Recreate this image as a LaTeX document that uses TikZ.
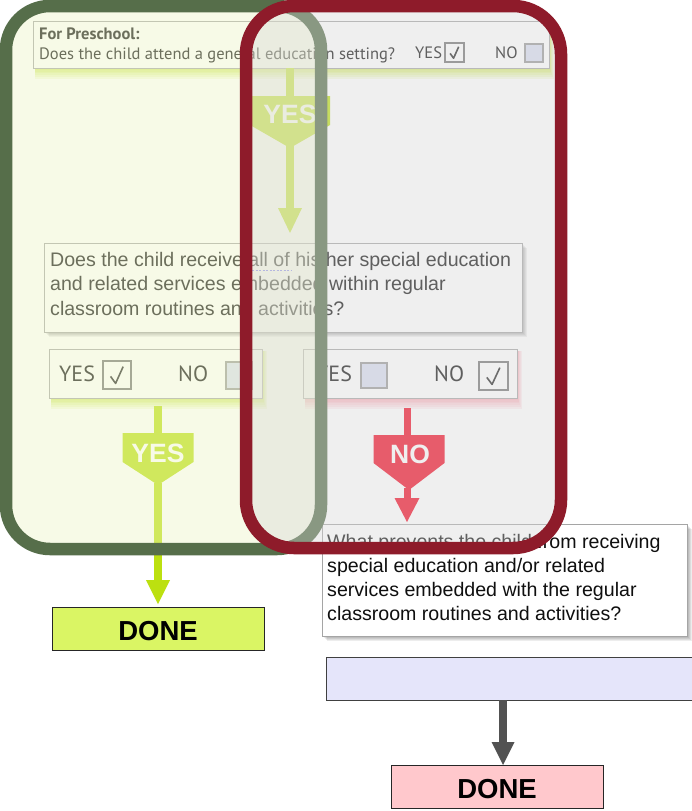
\documentclass[tikz,border=0pt]{standalone}
\usepackage{fontspec}
\setmainfont{Liberation Sans}
\newfontfamily\myr{PT Sans}
\definecolor{gborder}{RGB}{86,110,74}
\definecolor{rborder}{RGB}{142,27,42}
\definecolor{gfill}{RGB}{238,245,200}
\definecolor{rfill}{RGB}{215,215,215}
\definecolor{lime}{RGB}{188,224,16}
\definecolor{nored}{RGB}{243,10,35}
\definecolor{donegreen}{RGB}{218,245,100}
\definecolor{donepink}{RGB}{255,200,204}
\definecolor{lav}{RGB}{229,229,250}
\definecolor{txt}{RGB}{15,15,15}
\definecolor{boxline}{RGB}{165,165,165}
\definecolor{unchk}{RGB}{215,220,240}
\definecolor{pinkglow}{RGB}{250,120,140}
\newcommand\myshadow[4]{\foreach \i in {1,...,5}{\fill[black,opacity=0.07] ({#1+\i*0.9},{#2+\i*0.9}) rectangle ({#3+\i*0.9},{#4+\i*0.9});}}
\newcommand\myglow[5]{\foreach \i in {1,...,6}{\fill[#5,opacity=0.12] ({#1+2},{#2+2}) rectangle ({#3+\i*0.8},{#4+\i*1.8});}}
\newcommand\mychk[4]{\fill[white] (#1,#2) rectangle (#3,#4);
  \draw[black!55,line width=2] (#1,#2) rectangle (#3,#4);
  \draw[black!85,line width=1.6,line join=round] ({#1+0.27*(#3-#1)},{#2+0.55*(#4-#2)}) -- ({#1+0.45*(#3-#1)},{#2+0.8*(#4-#2)}) -- ({#1+0.72*(#3-#1)},{#2+0.2*(#4-#2)});}
\newcommand\myunchk[4]{\fill[unchk] (#1,#2) rectangle (#3,#4);
  \draw[black!40,line width=1.4] (#1,#2) rectangle (#3,#4);}
\newcommand\mypenta[6]{\fill[#6] ({#1-#3},#2) -- ({#1+#3},#2) -- ({#1+#3},#4) -- (#1,#5) -- ({#1-#3},#4) -- cycle;}
\tikzset{
  qbox/.style={draw=boxline,fill=white,line width=1.2,inner sep=0,anchor=north west},
  donebox/.style={draw=black!85,line width=1,inner sep=0,anchor=north west},
  donetxt/.style={anchor=base,inner sep=0,text=black,font=\bfseries\fontsize{27.5}{30}\selectfont},
  ltxt/.style={anchor=base west,inner sep=0,text=txt,font=\fontsize{19.6}{24}\selectfont},
  mtxt/.style={anchor=base west,inner sep=0,text=txt,font=\myr\fontsize{16.5}{18}\selectfont},
  ynt/.style={anchor=base west,inner sep=0,text=txt,font=\myr\fontsize{22}{26}\selectfont},
  plabel/.style={anchor=base,inner sep=0,text=white,font=\bfseries\fontsize{26.5}{30}\selectfont},
  limestem/.style={draw=lime,line width=7.5},
  redstem/.style={draw=nored,line width=7},
  graystem/.style={draw=black!68,line width=8},
}
\begin{document}
\begin{tikzpicture}[x=1pt,y=-1pt]
\useasboundingbox (0,0) rectangle (692,811);
\fill[white] (0,0) rectangle (692,811);
% ---------- top question
\myglow{33}{21}{549}{68}{lime}
\node[qbox,minimum width=516,minimum height=47] (q0) at (33,21) {};
\node[mtxt,font=\myr\bfseries\fontsize{16.5}{18}\selectfont] (pre) at (39,39) {For Preschool:};
\node[mtxt] (q0t) at (39,59) {Does the child attend a general education setting?};
\node[mtxt] (q0y) at (415,58) {YES};
\node[mtxt] (q0n) at (495,58) {NO};
\mychk{445}{43}{464}{62}
\myunchk{525}{44}{543}{62}
% ---------- top YES arrow
\coordinate (a0s) at (290,68);
\coordinate (a0p) at (290,96);
\coordinate (a0q) at (290,146);
\coordinate (a0b) at (290,210);
\draw[limestem] (a0s) -- (a0p);
\mypenta{290}{96}{40}{125}{148}{lime}
\node[plabel] (lyes0) at (290,123) {YES};
\draw[limestem] (a0q) -- (a0b);
\fill[lime] (278,208) -- (302,208) -- (290,233) -- cycle;
% ---------- second question
\myshadow{44}{243}{522}{332}
\node[qbox,minimum width=478,minimum height=89] (q1) at (44,243) {};
\node[ltxt] (q1a) at (50,266) {Does the child receive all of his/her special education};
\node[ltxt] (q1b) at (50,290.5) {and related services embedded within regular};
\node[ltxt] (q1c) at (50,315) {classroom routines and activities?};
\draw[blue!60,line width=0.8,dash pattern=on 2pt off 1.5pt] (252,270) -- (292,270);
% ---------- yes / no boxes
\myglow{49}{349}{262}{398}{lime}
\node[qbox,minimum width=213,minimum height=49] (yn1) at (49,349) {};
\node[ynt] (yn1y) at (59,381) {YES};
\mychk{103}{361}{131}{389}
\node[ynt] (yn1n) at (178,381) {NO};
\myunchk{226}{362}{252}{389}
\myglow{303}{349}{517}{398}{pinkglow}
\node[qbox,minimum width=214,minimum height=49] (yn2) at (303,349) {};
\node[ynt] (yn2y) at (316,381) {YES};
\myunchk{361}{363}{387}{388}
\node[ynt] (yn2n) at (434,381) {NO};
\mychk{479}{362}{508}{390}
% ---------- left YES arrow
\coordinate (a1s) at (158,406);
\coordinate (a1p) at (158,433);
\coordinate (a1q) at (158,483);
\coordinate (a1b) at (158,582);
\draw[limestem] (a1s) -- (a1p);
\mypenta{158}{433}{35.5}{462}{485}{lime}
\node[plabel] (lyes1) at (158,462) {YES};
\draw[limestem] (a1q) -- (a1b);
\fill[lime] (146,580) -- (170,580) -- (158,604) -- cycle;
% ---------- NO arrow
\coordinate (a2s) at (407,408);
\coordinate (a2p) at (407,435);
\coordinate (a2q) at (407,488);
\coordinate (a2b) at (407,500);
\draw[redstem] (a2s) -- (a2p);
\mypenta{409}{435}{35.5}{463}{490}{nored}
\node[plabel] (lno) at (410,463) {NO};
\draw[redstem] (a2q) -- (a2b);
\fill[nored] (394.5,498) -- (419.5,498) -- (407,522) -- cycle;
% ---------- done left
\node[donebox,fill=donegreen,minimum width=212,minimum height=43] (done1) at (52,607) {};
\node[donetxt] (done1t) at (158,640) {DONE};
% ---------- what prevents
\myshadow{322}{524}{687}{636}
\node[qbox,minimum width=365,minimum height=112] (q2) at (322,524) {};
\node[ltxt] (q2a) at (327,548) {What prevents the child from receiving};
\node[ltxt] (q2b) at (327,572) {special education and/or related};
\node[ltxt] (q2c) at (327,596.5) {services embedded with the regular};
\node[ltxt] (q2d) at (327,620) {classroom routines and activities?};
% ---------- answer box and done
\node[draw=black!75,line width=1,fill=lav,inner sep=0,anchor=north west,minimum width=372,minimum height=43] (ans) at (326,657) {};
\coordinate (a3s) at (503,700);
\coordinate (a3b) at (503,744);
\draw[graystem] (a3s) -- (a3b);
\fill[black!68] (491.5,742) -- (514.5,742) -- (503,765) -- cycle;
\node[donebox,fill=donepink,minimum width=212,minimum height=43] (done2) at (391,765) {};
\node[donetxt] (done2t) at (497,798) {DONE};
% ---------- overlays
\fill[gfill,opacity=0.42,rounded corners=44] (6,6) rectangle (321,549);
\draw[gborder,line width=12.5,rounded corners=44] (6,6) rectangle (321,549);
\fill[rfill,opacity=0.4,rounded corners=48] (246,6) rectangle (561,548);
\draw[rborder,line width=12.5,rounded corners=48] (246,6) rectangle (561,548);
\end{tikzpicture}
\end{document}
